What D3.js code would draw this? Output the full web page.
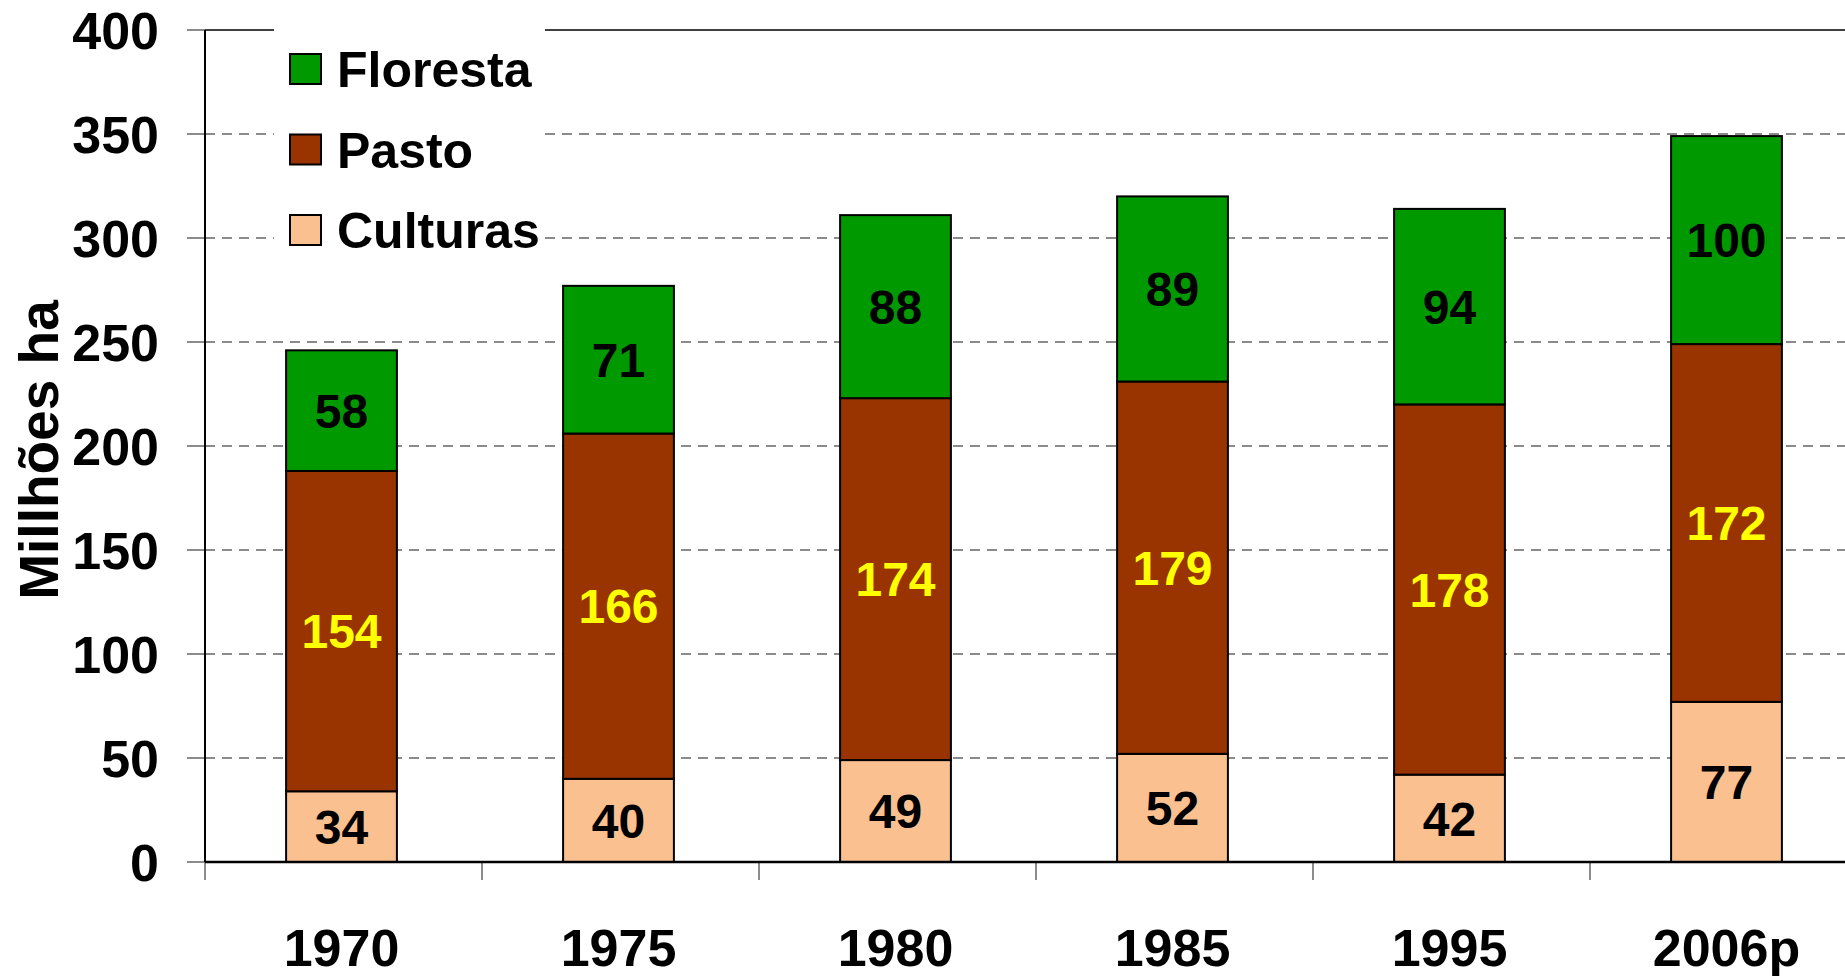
<!DOCTYPE html>
<html>
<head>
<meta charset="utf-8">
<script src="https://cdn.jsdelivr.net/npm/d3@7"></script>
<style>
  html, body { margin: 0; padding: 0; background: #fff; }
  text { font-family: "Liberation Sans", Arial, sans-serif; font-weight: bold; }
</style>
</head>
<body>
<div id="chart"></div>
<script>
// data
const years = ["1970", "1975", "1980", "1985", "1995", "2006p"];
const culturas = [34, 40, 49, 52, 42, 77];
const pasto = [154, 166, 174, 179, 178, 172];
const floresta = [58, 71, 88, 89, 94, 100];
const yTicks = [0, 50, 100, 150, 200, 250, 300, 350, 400];

const seriesNames = ["Culturas", "Pasto", "Floresta"];
const seriesColours = ["#FAC090", "#993300", "#009900"];
const labelColours = ["#000000", "#FFFF00", "#000000"];

const w = 1845;
const h = 976;
const plotLeft = 205, plotTop = 30, plotBottom = 862;
const step = 277;
const plotRight = plotLeft + years.length * step;

let svg = d3.select("#chart")
  .append("svg")
  .attr("width", w)
  .attr("height", h);

// bars sit a touch left of the band centre in the original
let x = d3.scaleBand()
  .domain(years)
  .range([plotLeft - 2, plotRight - 2])
  .paddingInner(0.6)
  .paddingOuter(0.3);

let y = d3.scaleLinear()
  .domain([0, 400])
  .range([plotBottom, plotTop]);

// build stacked table
let table = years.map(function (yr, i) {
  return { year: yr, Culturas: culturas[i], Pasto: pasto[i], Floresta: floresta[i] };
});
let stacked = d3.stack().keys(seriesNames)(table);

// gridlines (dashed)
svg.append("g")
  .selectAll("line")
  .data(yTicks.filter(function (d) { return d > 0 && d < 400; }))
  .join("line")
  .attr("x1", plotLeft)
  .attr("x2", w)
  .attr("y1", function (d) { return y(d); })
  .attr("y2", function (d) { return y(d); })
  .attr("stroke", "#666")
  .attr("stroke-width", 1.5)
  .attr("stroke-dasharray", "10,7");

// top border
svg.append("line")
  .attr("x1", plotLeft).attr("x2", w)
  .attr("y1", y(400)).attr("y2", y(400))
  .attr("stroke", "#000").attr("stroke-width", 1.5);

// y ticks + labels
svg.append("g")
  .selectAll("line")
  .data(yTicks)
  .join("line")
  .attr("x1", plotLeft - 18).attr("x2", plotLeft)
  .attr("y1", function (d) { return y(d); })
  .attr("y2", function (d) { return y(d); })
  .attr("stroke", "#666").attr("stroke-width", 1.5);

svg.append("g")
  .selectAll("text")
  .data(yTicks)
  .join("text")
  .attr("x", 159)
  .attr("y", function (d) { return y(d); })
  .attr("dy", "0.36em")
  .attr("text-anchor", "end")
  .attr("font-size", 52)
  .text(function (d) { return d; });

// x ticks at category boundaries
svg.append("g")
  .selectAll("line")
  .data(d3.range(years.length + 1))
  .join("line")
  .attr("x1", function (i) { return plotLeft + i * x.step(); })
  .attr("x2", function (i) { return plotLeft + i * x.step(); })
  .attr("y1", plotBottom).attr("y2", plotBottom + 18)
  .attr("stroke", "#666").attr("stroke-width", 1.5);

// bars
for (let s = 0; s < stacked.length; s++) {
  let layer = stacked[s];
  svg.append("g")
    .selectAll("rect")
    .data(layer)
    .join("rect")
    .attr("x", function (d) { return x(d.data.year); })
    .attr("width", x.bandwidth())
    .attr("y", function (d) { return y(d[1]); })
    .attr("height", function (d) { return y(d[0]) - y(d[1]); })
    .attr("fill", seriesColours[s])
    .attr("stroke", "#000")
    .attr("stroke-width", 2);

  svg.append("g")
    .selectAll("text")
    .data(layer)
    .join("text")
    .attr("x", function (d) { return x(d.data.year) + x.bandwidth() / 2; })
    .attr("y", function (d) { return y((d[0] + d[1]) / 2); })
    .attr("dy", "0.36em")
    .attr("text-anchor", "middle")
    .attr("font-size", 48)
    .attr("fill", labelColours[s])
    .text(function (d) { return d[1] - d[0]; });
}

// axes lines
svg.append("line")
  .attr("x1", plotLeft).attr("x2", plotLeft)
  .attr("y1", plotTop).attr("y2", plotBottom)
  .attr("stroke", "#000").attr("stroke-width", 2);
svg.append("line")
  .attr("x1", plotLeft).attr("x2", w)
  .attr("y1", plotBottom).attr("y2", plotBottom)
  .attr("stroke", "#000").attr("stroke-width", 2.5);

// x labels
svg.append("g")
  .selectAll("text")
  .data(years)
  .join("text")
  .attr("x", function (d) { return x(d) + x.bandwidth() / 2; })
  .attr("y", 947)
  .attr("dy", "0.36em")
  .attr("text-anchor", "middle")
  .attr("font-size", 52)
  .text(function (d) { return d; });

// y title
svg.append("text")
  .attr("transform", "translate(38,450) rotate(-90)")
  .attr("dy", "0.36em")
  .attr("text-anchor", "middle")
  .attr("font-size", 55)
  .text("Millhões ha");

// legend (white box covers grid)
let legend = svg.append("g");
legend.append("rect")
  .attr("x", 274).attr("y", 20)
  .attr("width", 271).attr("height", 235)
  .attr("fill", "#fff");

let legendOrder = [2, 1, 0];
legendOrder.forEach(function (s, i) {
  let ly = 54 + i * 80.5;
  legend.append("rect")
    .attr("x", 290).attr("y", ly)
    .attr("width", 31).attr("height", 30)
    .attr("fill", seriesColours[s])
    .attr("stroke", "#000").attr("stroke-width", 2);
  legend.append("text")
    .attr("x", 337).attr("y", ly + 15)
    .attr("dy", "0.36em")
    .attr("font-size", 50)
    .text(seriesNames[s]);
});
</script>
</body>
</html>
